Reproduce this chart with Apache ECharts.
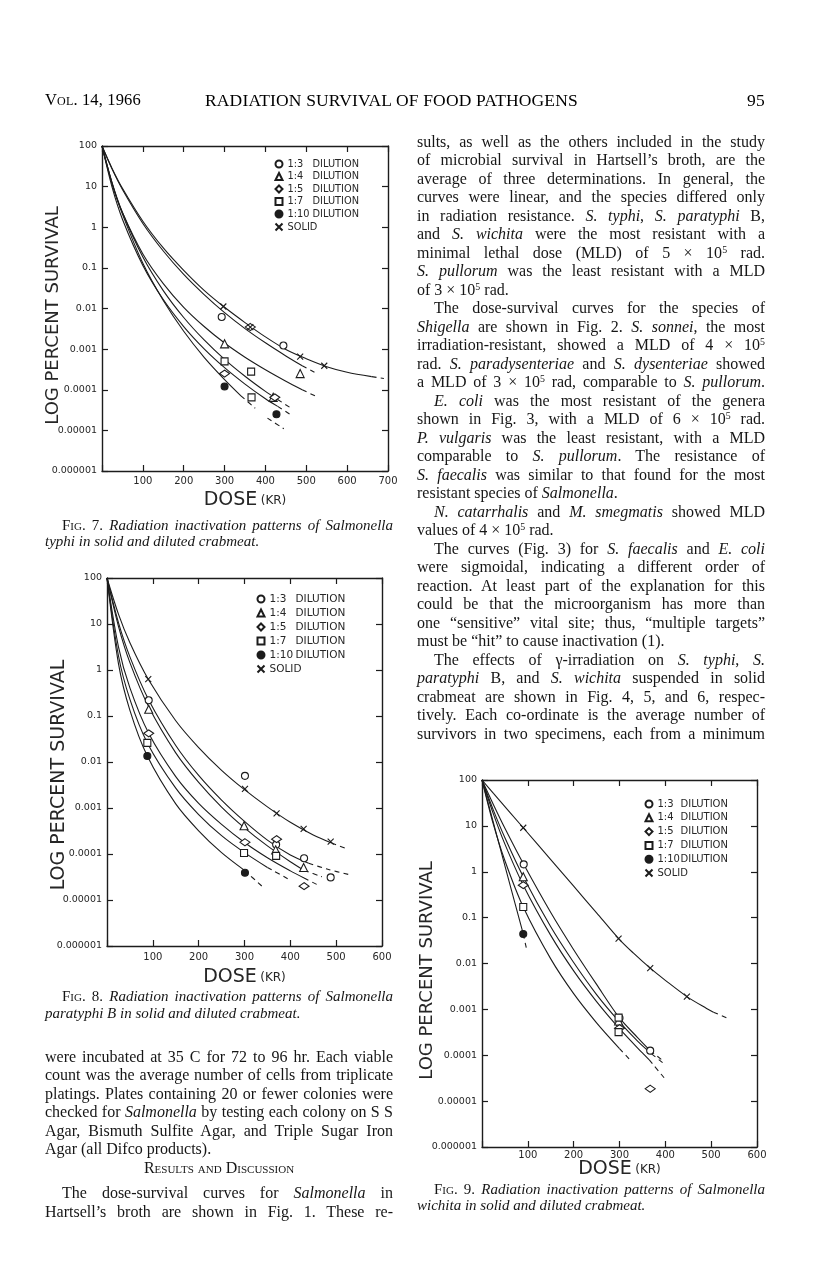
<!DOCTYPE html>
<html><head><meta charset="utf-8">
<script src="https://cdn.jsdelivr.net/npm/echarts@6/dist/echarts.min.js"></script>
<style>
html,body{margin:0;padding:0;background:#fff;}
#page{position:relative;width:816px;height:1270px;overflow:hidden;font-family:"Liberation Serif","Times New Roman",serif;color:#161616;background:#fff;}
#chart{position:absolute;left:0;top:0;width:816px;height:1270px;}
.abs{position:absolute;white-space:nowrap;}
.col{position:absolute;width:348px;font-size:16px;line-height:18.5px;}
.col div{white-space:nowrap;text-align:justify;text-align-last:justify;}
.col div.last{text-align-last:left;}
.col div.ind{text-indent:17px;}
.col div.ctr{text-align:center;text-align-last:center;}
sup{font-size:0.62em;line-height:0;vertical-align:0.5em;}
.sc{font-variant:small-caps;}
.cap{position:absolute;width:348px;font-size:15px;line-height:16.5px;}
.cap div{white-space:nowrap;text-align:justify;text-align-last:justify;}
.cap div.last{text-align-last:left;}
.cap div.ind{text-indent:17px;}
.hdr{font-size:17.5px;line-height:20px;color:#000;letter-spacing:0.15px;}
</style></head>
<body>
<div id="page">
<div id="chart"></div>

<div class="abs hdr" style="left:45px;top:90px;font-size:16.5px;"><span class="sc">Vol</span>. 14, 1966</div>
<div class="abs hdr" style="left:205px;top:90px;">RADIATION SURVIVAL OF FOOD PATHOGENS</div>
<div class="abs hdr" style="left:747px;top:90px;">95</div>

<div class="col" style="left:417px;top:132.5px;">
<div>sults, as well as the others included in the study</div>
<div>of microbial survival in Hartsell’s broth, are the</div>
<div>average of three determinations. In general, the</div>
<div>curves were linear, and the species differed only</div>
<div>in radiation resistance. <i>S. typhi</i>, <i>S. paratyphi</i> B,</div>
<div>and <i>S. wichita</i> were the most resistant with a</div>
<div>minimal lethal dose (MLD) of 5 × 10<sup>5</sup> rad.</div>
<div><i>S. pullorum</i> was the least resistant with a MLD</div>
<div class="last">of 3 × 10<sup>5</sup> rad.</div>
<div class="ind">The dose-survival curves for the species of</div>
<div><i>Shigella</i> are shown in Fig. 2. <i>S. sonnei</i>, the most</div>
<div>irradiation-resistant, showed a MLD of 4 × 10<sup>5</sup></div>
<div>rad. <i>S. paradysenteriae</i> and <i>S. dysenteriae</i> showed</div>
<div>a MLD of 3 × 10<sup>5</sup> rad, comparable to <i>S. pullorum</i>.</div>
<div class="ind"><i>E. coli</i> was the most resistant of the genera</div>
<div>shown in Fig. 3, with a MLD of 6 × 10<sup>5</sup> rad.</div>
<div><i>P. vulgaris</i> was the least resistant, with a MLD</div>
<div>comparable to <i>S. pullorum</i>. The resistance of</div>
<div><i>S. faecalis</i> was similar to that found for the most</div>
<div class="last">resistant species of <i>Salmonella</i>.</div>
<div class="ind"><i>N. catarrhalis</i> and <i>M. smegmatis</i> showed MLD</div>
<div class="last">values of 4 × 10<sup>5</sup> rad.</div>
<div class="ind">The curves (Fig. 3) for <i>S. faecalis</i> and <i>E. coli</i></div>
<div>were sigmoidal, indicating a different order of</div>
<div>reaction. At least part of the explanation for this</div>
<div>could be that the microorganism has more than</div>
<div>one “sensitive” vital site; thus, “multiple targets”</div>
<div class="last">must be “hit” to cause inactivation (1).</div>
<div class="ind">The effects of γ-irradiation on <i>S. typhi</i>, <i>S.</i></div>
<div><i>paratyphi</i> B, and <i>S. wichita</i> suspended in solid</div>
<div>crabmeat are shown in Fig. 4, 5, and 6, respec-</div>
<div>tively. Each co-ordinate is the average number of</div>
<div>survivors in two specimens, each from a minimum</div>
</div>

<div class="cap" style="left:45px;top:516.5px;">
<div class="ind"><span class="sc">Fig</span>. 7. <i>Radiation inactivation patterns of Salmonella</i></div>
<div class="last"><i>typhi in solid and diluted crabmeat.</i></div>
</div>

<div class="cap" style="left:45px;top:988px;">
<div class="ind"><span class="sc">Fig</span>. 8. <i>Radiation inactivation patterns of Salmonella</i></div>
<div class="last"><i>paratyphi B in solid and diluted crabmeat.</i></div>
</div>

<div class="cap" style="left:417px;top:1180.5px;">
<div class="ind"><span class="sc">Fig</span>. 9. <i>Radiation inactivation patterns of Salmonella</i></div>
<div class="last"><i>wichita in solid and diluted crabmeat.</i></div>
</div>

<div class="col" style="left:45px;top:1047.5px;">
<div>were incubated at 35 C for 72 to 96 hr. Each viable</div>
<div>count was the average number of cells from triplicate</div>
<div>platings. Plates containing 20 or fewer colonies were</div>
<div>checked for <i>Salmonella</i> by testing each colony on S S</div>
<div>Agar, Bismuth Sulfite Agar, and Triple Sugar Iron</div>
<div class="last">Agar (all Difco products).</div>
</div>
<div class="col" style="left:45px;top:1159px;">
<div class="ctr"><span class="sc">Results and Discussion</span></div>
</div>
<div class="col" style="left:45px;top:1184px;">
<div class="ind">The dose-survival curves for <i>Salmonella</i> in</div>
<div>Hartsell’s broth are shown in Fig. 1. These re-</div>
</div>
</div>

<script>
// ---------- shared tick labels ----------
const survivalTicks = ['0.000001','0.00001','0.0001','0.001','0.01','0.1','1','10','100'];
const doseTicks7 = ['100','200','300','400','500','600','700'];
const doseTicks8 = ['100','200','300','400','500','600'];
const doseTicks9 = ['100','200','300','400','500','600'];
const legendKeys = ['1:3','1:4','1:5','1:7','1:10','SOLID'];

// ---------- Fig. 7  S. typhi : curves [dose kr, % survival] ----------
const f7CurveSolid = [[0,100],[25,27.7],[50,9.1],[100,1.41],[150,0.31],[200,0.087],[250,0.028],[300,0.0107],[350,0.0045],[400,0.002],[450,9.8e-4],[500,5.8e-4],[550,3.7e-4],[600,2.7e-4],[660,2.1e-4],[690,1.9e-4]];
const f7Curve13 = [[0,100],[25,26.6],[50,8.5],[100,1.24],[150,0.26],[200,0.069],[250,0.022],[300,0.0079],[350,0.0032],[400,0.00143],[450,6.8e-4],[490,3.9e-4],[520,2.7e-4]];
const f7Curve14 = [[0,100],[25,11.4],[50,2.3],[100,0.22],[150,0.041],[200,0.0107],[250,0.0036],[300,0.00141],[350,6.3e-4],[400,3.1e-4],[450,1.62e-4],[490,1.0e-4],[525,6.8e-5]];
const f7Curve15 = [[0,100],[25,12.1],[50,2.31],[100,0.185],[150,0.0276],[200,0.006],[250,0.00168],[300,5.6e-4],[350,2.15e-4],[400,9.1e-5],[430,5.75e-5],[465,3.4e-5]];
const f7Curve17 = [[0,100],[25,9.4],[50,1.58],[100,0.115],[150,0.0166],[200,0.0036],[250,0.00102],[300,3.5e-4],[350,1.38e-4],[400,6.0e-5],[430,3.9e-5],[460,2.5e-5]];
const f7Curve110 = [[0,100],[25,11.9],[50,2.1],[100,0.13],[150,0.0158],[200,0.00275],[250,6.3e-4],[300,1.78e-4],[340,7.1e-5],[375,3.5e-5]];
const f7Curve110b = [[405,2.0e-5],[445,1.1e-5]];
const f7DashFrom = [660, 490, 490, 430, 430, 340, 405];
// Fig. 7 plotted points
const f7PtsSolid = [[297,0.0112],[363,0.0035],[485,6.5e-4],[544,3.9e-4]];
const f7Pts13 = [[293,0.0062],[444,0.00123]];
const f7Pts14 = [[300,0.00135],[485,2.5e-4],[419,6.5e-5]];
const f7Pts15 = [[363,0.0035],[300,2.5e-4],[423,6.5e-5]];
const f7Pts17 = [[300,5.0e-4],[365,2.8e-4],[366,6.5e-5]];
const f7Pts110 = [[300,1.2e-4],[427,2.5e-5]];

// ---------- Fig. 8  S. paratyphi B ----------
const f8CurveSolid = [[0,100],[25,16.4],[50,3.9],[90,0.63],[150,0.079],[200,0.0206],[250,0.0066],[300,0.0025],[350,0.00106],[400,4.9e-4],[450,2.6e-4],[490,1.74e-4],[526,1.26e-4]];
const f8Curve13 = [[0,100],[25,10.7],[50,1.93],[91,0.224],[150,0.0229],[200,0.0051],[250,0.00148],[300,5.1e-4],[350,2.0e-4],[400,9.5e-5],[440,6.3e-5],[480,4.7e-5],[529,3.55e-5]];
const f8Curve14 = [[0,100],[25,8.9],[50,1.45],[91,0.158],[150,0.0158],[200,0.0036],[250,0.00105],[300,3.7e-4],[350,1.5e-4],[400,6.8e-5],[430,4.4e-5],[469,3.2e-5]];
const f8Curve15 = [[0,100],[25,3.2],[50,0.41],[91,0.042],[150,0.0048],[200,0.00126],[250,4.4e-4],[300,1.78e-4],[350,8.3e-5],[400,4.3e-5],[430,3.0e-5],[461,2.1e-5]];
const f8Curve17 = [[0,100],[25,2.04],[50,0.23],[88,0.026],[150,0.0027],[200,7.2e-4],[250,2.5e-4],[300,1.07e-4],[350,5.1e-5],[400,2.7e-5]];
const f8Curve110 = [[0,100],[25,1.38],[50,0.133],[88,0.0135],[150,0.00123],[200,3.2e-4],[250,1.07e-4],[300,4.4e-5],[338,2.0e-5]];
const f8DashFrom = [490, 440, 430, 430, 350, 300];
const f8PtsSolid = [[90,0.63],[301,0.0026],[370,7.6e-4],[429,3.5e-4],[488,1.86e-4]];
const f8Pts13 = [[91,0.22],[301,0.005],[369,1.6e-4],[430,8.1e-5],[488,3.1e-5]];
const f8Pts14 = [[91,0.14],[299,4.1e-4],[368,1.23e-4],[429,5.1e-5]];
const f8Pts15 = [[91,0.042],[301,1.8e-4],[370,2.1e-4],[430,2.0e-5]];
const f8Pts17 = [[88,0.026],[299,1.05e-4],[369,9.1e-5]];
const f8Pts110 = [[88,0.0135],[301,3.9e-5]];

// ---------- Fig. 9  S. wichita ----------
const f9CurveSolid = [[0,100],[25,51],[90,9.1],[150,1.84],[200,0.484],[250,0.127],[298,0.035],[330,0.017],[367,0.0079],[400,0.0043],[447,0.0019],[490,0.00105],[505,8.7e-4],[534,6.5e-4]];
const f9Curve13 = [[0,100],[25,29],[50,8.9],[91,1.45],[150,0.129],[200,0.02],[250,0.0035],[300,6.5e-4],[340,2.4e-4],[367,1.26e-4],[395,7.6e-5]];
const f9Curve14 = [[0,100],[25,21.8],[50,5.5],[90,0.78],[150,0.063],[200,0.0105],[250,0.0021],[298,5.6e-4],[340,2.0e-4],[370,1.07e-4],[395,6.8e-5]];
const f9Curve15 = [[0,100],[25,18],[50,4.0],[90,0.51],[150,0.041],[200,0.0069],[250,0.00148],[300,3.8e-4],[350,1.12e-4],[365,7.9e-5],[400,3.0e-5]];
const f9Curve17 = [[0,100],[25,10.6],[50,1.74],[90,0.17],[150,0.0126],[200,0.0022],[250,5.1e-4],[300,1.4e-4],[323,7.9e-5]];
const f9Curve110 = [[0,100],[25,11.6],[50,1.35],[90,0.044],[98,0.019]];
const f9DashFrom = [505, 367, 370, 365, 300, 90];
const f9PtsSolid = [[90,9.1],[298,0.035],[367,0.0079],[447,0.0019]];
const f9Pts13 = [[91,1.45],[300,6.5e-4],[367,1.26e-4]];
const f9Pts14 = [[90,0.78],[298,5.6e-4]];
const f9Pts15 = [[90,0.51],[300,3.9e-4],[367,1.86e-5]];
const f9Pts17 = [[90,0.17],[298,6.6e-4],[298,3.2e-4]];
const f9Pts110 = [[90,0.044]];

// ---------- styling helpers ----------
const INK = '#1c1c1c';
const TXT = '#262626';
const FONT = 'DejaVu Sans';
const SYM = {
  '1:3':  {symbol:'circle',   fill:'#fff', size:7},
  '1:4':  {symbol:'triangle', fill:'#fff', size:8},
  '1:5':  {symbol:'diamond',  fill:'#fff', size:[10,7]},
  '1:7':  {symbol:'rect',     fill:'#fff', size:7},
  '1:10': {symbol:'circle',   fill:INK,    size:7},
  'SOLID':{symbol:'path://M0,0L10,10M10,0L0,10', fill:'none', size:6}
};

function xAxes(gi, max, ticks, margin, gap) {
  const common = {gridIndex:gi, type:'value', min:0, max:max, interval:100,
    splitLine:{show:false},
    axisLine:{onZero:false, lineStyle:{color:INK, width:1.4}},
    axisTick:{inside:true, length:6, lineStyle:{color:INK, width:1.2}}};
  return [
    Object.assign({}, common, {position:'bottom',
      axisLabel:{margin:margin, color:TXT, fontSize:10, fontFamily:FONT,
        formatter: v => v === 0 ? '' : (ticks[Math.round(v/100) - 1] || '')},
      name:'{d|DOSE} {k|(KR)}', nameLocation:'middle', nameGap:gap, nameMoveOverlap:false,
      nameTextStyle:{rich:{d:{fontSize:19, fontFamily:FONT, color:TXT}, k:{fontSize:12, fontFamily:FONT, color:TXT}}}}),
    Object.assign({}, common, {position:'top', axisLabel:{show:false}})
  ];
}
function yAxes(gi, gap, fs, shift) {
  const common = {gridIndex:gi, type:'log', logBase:10, min:0.000001, max:100, splitNumber:8,
    splitLine:{show:false},
    axisLine:{onZero:false, lineStyle:{color:INK, width:1.4}},
    axisTick:{inside:true, length:6, lineStyle:{color:INK, width:1.2}}};
  return [
    Object.assign({}, common, {position:'left',
      axisLabel:{margin:5, color:TXT, fontSize:9.5, fontFamily:FONT,
        formatter: v => survivalTicks[Math.round(Math.log10(v)) + 6] || ''},
      name:'LOG PERCENT SURVIVAL', nameLocation:'middle', nameGap:gap, nameRotate:90, nameMoveOverlap:false,
      nameTextStyle:{fontSize:fs, fontFamily:FONT, color:TXT, padding:[0, shift, 0, 0]}}),
    Object.assign({}, common, {position:'right', axisLabel:{show:false}})
  ];
}
function curveSeries(data, dashFrom, ai) {
  const base = {type:'line', xAxisIndex:ai, yAxisIndex:ai, symbol:'none', smooth:0.3,
    silent:true, z:2, animation:false};
  const solid = data.filter(d => d[0] <= dashFrom);
  const dashed = data.filter(d => d[0] >= dashFrom);
  const out = [];
  if (solid.length > 1) out.push(Object.assign({}, base, {data:solid, lineStyle:{color:INK, width:1.1}}));
  if (dashed.length > 1) out.push(Object.assign({}, base, {data:dashed, lineStyle:{color:INK, width:1.1, type:[5,4]}}));
  return out;
}
function pointSeries(prefix, key, data, ai) {
  const s = SYM[key];
  return {type:'scatter', name:prefix + '|' + key, xAxisIndex:ai, yAxisIndex:ai, data:data,
    symbol:s.symbol, symbolSize:s.size, z:5, animation:false,
    itemStyle:{color:s.fill, borderColor:INK, borderWidth:1.1, opacity:1}};
}
function legendFor(prefix, left, top, lh, gap, ratioW, fs) {
  return {orient:'vertical', left:left, top:top, padding:0, itemWidth:7, itemHeight:7, itemGap:gap,
    selectedMode:false, data:legendKeys.map(k => prefix + '|' + k),
    formatter: name => { const t = name.split('|')[1]; return t === 'SOLID' ? '{s|SOLID}' : '{r|' + t + '}{d|DILUTION}'; },
    textStyle:{color:TXT, fontFamily:FONT, fontSize:fs, lineHeight:lh,
      rich:{r:{width:ratioW, fontSize:fs, lineHeight:lh, fontFamily:FONT, color:TXT},
            d:{fontSize:fs, lineHeight:lh, fontFamily:FONT, color:TXT},
            s:{fontSize:fs, lineHeight:lh, fontFamily:FONT, color:TXT}}}};
}

// ---------- assemble ----------
const series = [];
function addFigure(prefix, ai, curves, dashFrom, pts) {
  curves.forEach((c, i) => series.push(...curveSeries(c, dashFrom[i], ai)));
  legendKeys.forEach((k, i) => series.push(pointSeries(prefix, k, pts[i], ai)));
}
addFigure('f7', 0, [f7CurveSolid, f7Curve13, f7Curve14, f7Curve15, f7Curve17, f7Curve110, f7Curve110b], f7DashFrom,
  [f7Pts13, f7Pts14, f7Pts15, f7Pts17, f7Pts110, f7PtsSolid]);
addFigure('f8', 2, [f8CurveSolid, f8Curve13, f8Curve14, f8Curve15, f8Curve17, f8Curve110], f8DashFrom,
  [f8Pts13, f8Pts14, f8Pts15, f8Pts17, f8Pts110, f8PtsSolid]);
addFigure('f9', 4, [f9CurveSolid, f9Curve13, f9Curve14, f9Curve15, f9Curve17, f9Curve110], f9DashFrom,
  [f9Pts13, f9Pts14, f9Pts15, f9Pts17, f9Pts110, f9PtsSolid]);

const option = {
  animation:false,
  backgroundColor:'transparent',
  grid:[
    {left:102, top:146, width:286, height:325, outerBoundsMode:'none'},
    {left:107, top:578, width:275, height:368, outerBoundsMode:'none'},
    {left:482, top:780, width:275, height:367, outerBoundsMode:'none'}
  ],
  xAxis:[...xAxes(0, 700, doseTicks7, 5, 20), ...xAxes(1, 600, doseTicks8, 6, 22), ...xAxes(2, 600, doseTicks9, 3, 13)],
  yAxis:[...yAxes(0, 40, 18, 14), ...yAxes(1, 38, 19, 26), ...yAxes(2, 46, 18, 14)],
  legend:[
    legendFor('f7', 273, 158.5, 11, 1.5, 25, 9.8),
    legendFor('f8', 255, 593, 12, 2, 26, 10.5),
    legendFor('f9', 643, 798, 12, 1.8, 23, 10)
  ],
  series:series
};
const chart = echarts.init(document.getElementById('chart'), null, {renderer:'canvas'});
chart.setOption(option);
</script>
</body></html>
